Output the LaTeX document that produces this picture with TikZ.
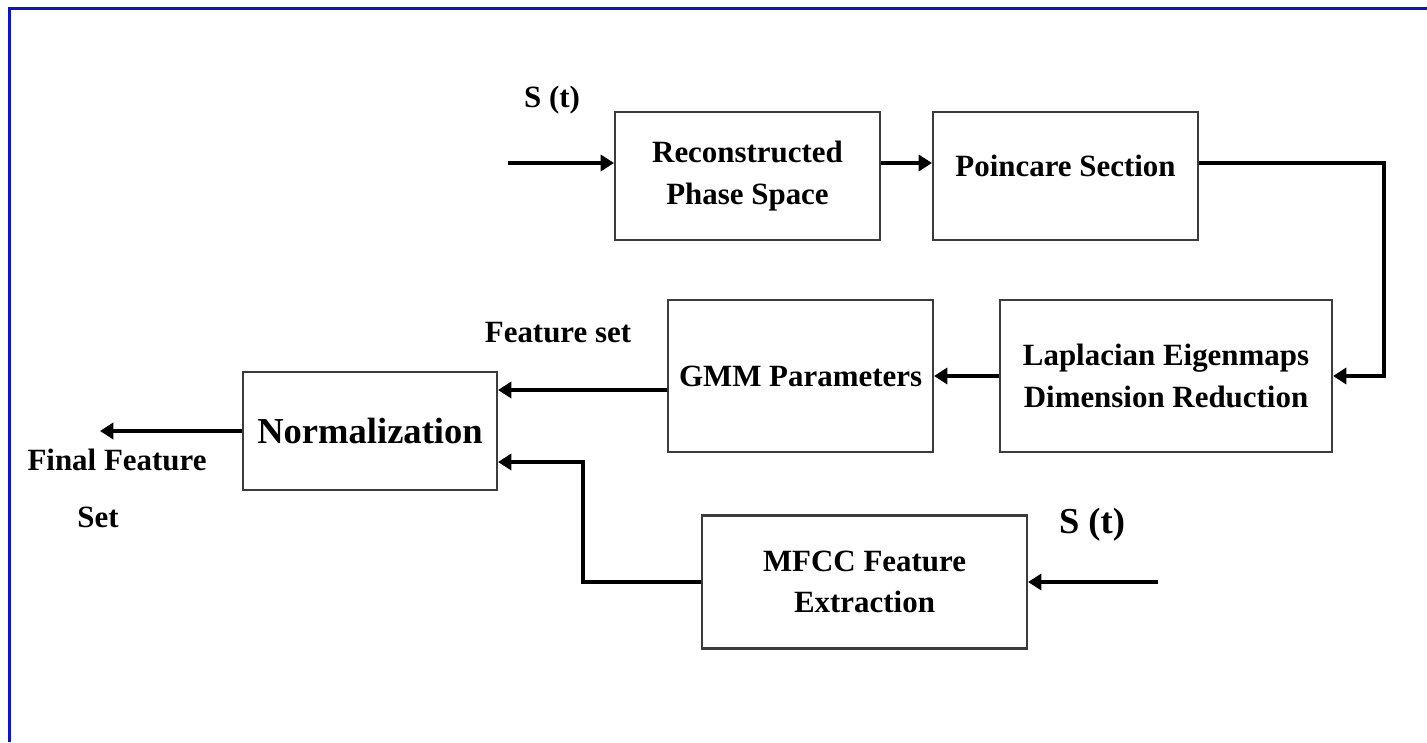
\documentclass[tikz,border=0pt]{standalone}
\usepackage{fontspec}
\setmainfont{Liberation Serif}
\usetikzlibrary{arrows.meta,positioning}
\definecolor{framecol}{RGB}{10,20,205}
\definecolor{boxcol}{RGB}{60,60,60}
\begin{document}
\begin{tikzpicture}[
    block/.style={draw=boxcol, line width=0.6pt, align=center, inner sep=0, font=\fontsize{8.8}{11.8}\selectfont\bfseries},
    flow/.style={draw, line width=1.1pt, -{Triangle[length=3.8pt,width=4.6pt]}},
    textnode/.style={align=center, font=\fontsize{8.8}{10}\selectfont\bfseries},
    bigtext/.style={align=center, font=\fontsize{10.4}{12}\selectfont\bfseries}
    ]
    \useasboundingbox (0,0) rectangle (14.27,7.42);

    % Frame
    \draw[framecol, line width=0.9pt] (14.27,7.335) -- (0.095,7.335) -- (0.095,0);

    % Blocks
    \node[block, minimum width=2.65cm, minimum height=1.28cm] (RPS) at (7.475,5.66) {Reconstructed\\Phase Space};
    \node[block, minimum width=2.65cm, minimum height=1.28cm] (PS) at (10.655,5.66) {\raisebox{2mm}{Poincare Section}};
    \node[block, minimum width=3.32cm, minimum height=1.52cm] (LEDR) at (11.66,3.66) {Laplacian Eigenmaps\\Dimension Reduction};
    \node[block, minimum width=2.65cm, minimum height=1.52cm] (GMM) at (8.005,3.66) {GMM Parameters};
    \node[block, minimum width=2.54cm, minimum height=1.18cm, font=\fontsize{10.4}{12}\selectfont\bfseries] (Norm) at (3.70,3.11) {Normalization};
    \node[block, minimum width=3.25cm, minimum height=1.33cm] (MFCC) at (8.645,1.60) {MFCC Feature\\Extraction};

    % Labels
    \node[textnode] (s1) at (5.52,6.42) {S (t)};
    \node[textnode] (fs) at (5.58,4.09) {Feature set};
    \node[textnode] (ff) at (1.17,2.82) {Final Feature};
    \node[textnode] (set) at (0.98,2.25) {Set};
    \node[bigtext] (s2) at (10.92,2.17) {S (t)};

    % Free ends
    \coordinate (sin) at (5.08,5.79);
    \coordinate (out) at (1.00,3.11);
    \coordinate (min) at (11.58,1.60);
    \coordinate (mjoin) at (5.83,2.80);

    % Connectors
    \draw[flow] (sin) -- (sin -| RPS.west);
    \draw[flow] (sin -| RPS.east) -- (sin -| PS.west);
    \draw[flow] (PS.east |- sin) -- ++(1.85,0) |- (LEDR.east);
    \draw[flow] (LEDR.west) -- (GMM.east);
    \draw[flow] ([yshift=-1.4mm]GMM.west) -- ([yshift=-1.4mm]GMM.west -| Norm.east);
    \draw[flow] (Norm.west) -- (out);
    \draw[flow] (min) -- (MFCC.east);
    \draw[flow] (MFCC.west) -| (mjoin) -- (mjoin -| Norm.east);

\end{tikzpicture}
\end{document}
